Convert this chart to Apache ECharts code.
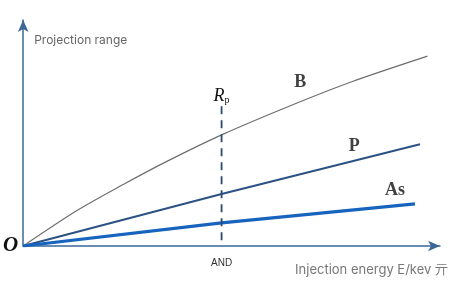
<!DOCTYPE html>
<html>
<head>
<meta charset="utf-8">
<script src="https://cdn.jsdelivr.net/npm/echarts@6/dist/echarts.min.js"></script>
<style>
  html, body { margin: 0; padding: 0; background: #fff; }
  #chart { width: 468px; height: 290px; }
</style>
</head>
<body>
<div id="chart"></div>
<script>
// curve points [energy, range] (0..100 both ways)
const boronData = [[0, 0], [13, 15.8], [24, 27.2], [34, 37], [48, 49.5], [66, 63.5], [79, 72.8], [97, 84]]
const phosData = [[0, 0], [47.6, 23], [95.2, 45]]
const arsenicData = [[0, 0], [47.6, 10.2], [94, 18.6]]
// Rp marker
const rpX = 47.6
const rpData = [[rpX, 2.5], [rpX, 62.4]]
// tick labels
const xTickValues = [rpX]
const xTickLabels = ['AND']
const yTickValues = [0]
const yTickLabels = ['O']
// curve name labels [name, x, y]
const curveLabels = [
  ['B', 66.5, 72.5],
  ['P', 79.4, 44.2],
  ['As', 89.2, 24.8]
]

const chart = echarts.init(document.getElementById('chart'))

const serif = '"Liberation Serif", "DejaVu Serif", serif'

const option = {
  animation: false,
  grid: { left: 22, right: 28, top: 20, bottom: 44 },
  xAxis: {
    type: 'value',
    min: 0,
    max: 100,
    name: 'Injection energy E/kev 亓',
    nameLocation: 'end',
    nameGap: 8,
    nameTextStyle: {
      color: '#777',
      fontSize: 13,
      fontFamily: 'Inter, "Noto Sans", sans-serif',
      align: 'right',
      verticalAlign: 'top',
      padding: [18, 0, 0, 0]
    },
    splitLine: { show: false },
    axisTick: { show: false },
    axisLine: {
      symbol: ['none', 'arrow'],
      symbolSize: [8, 12],
      lineStyle: { color: '#3a6796', width: 1.5 }
    },
    axisLabel: {
      customValues: xTickValues,
      formatter: v => xTickLabels[xTickValues.indexOf(v)] || '',
      color: '#333',
      fontSize: 10,
      margin: 12
    }
  },
  yAxis: {
    type: 'value',
    min: 0,
    max: 100,
    name: 'Projection range',
    nameLocation: 'end',
    nameGap: -20,
    nameTextStyle: {
      color: '#666',
      fontSize: 12,
      fontFamily: 'Inter, "Noto Sans", sans-serif',
      align: 'left',
      verticalAlign: 'middle',
      padding: [0, 0, 0, 11]
    },
    splitLine: { show: false },
    axisTick: { show: false },
    axisLine: {
      symbol: ['none', 'arrow'],
      symbolSize: [8, 12],
      lineStyle: { color: '#3a6796', width: 1.5 }
    },
    axisLabel: {
      customValues: yTickValues,
      formatter: v => yTickLabels[yTickValues.indexOf(v)] || '',
      color: '#111',
      fontSize: 21,
      fontStyle: 'italic',
      fontWeight: 'bold',
      fontFamily: serif,
      margin: 5,
      padding: [6, 0, 0, 0]
    }
  },
  series: [
    {
      type: 'line',
      data: boronData,
      smooth: 0.3,
      showSymbol: false,
      lineStyle: { color: '#6e6e6e', width: 1.2 }
    },
    {
      type: 'line',
      data: phosData,
      showSymbol: false,
      lineStyle: { color: '#2b5283', width: 2 }
    },
    {
      type: 'line',
      data: arsenicData,
      showSymbol: false,
      lineStyle: { color: '#1764be', width: 3.2 }
    },
    {
      type: 'line',
      data: rpData,
      showSymbol: false,
      lineStyle: { color: '#2c4a72', width: 1.8, type: [8, 6] },
      markPoint: {
        symbolSize: 0,
        data: [{
          coord: [rpX, 66.4],
          label: {
            show: true,
            formatter: '{r|R}{s|p}',
            rich: {
              r: { fontFamily: serif, fontStyle: 'italic', fontSize: 18, color: '#111' },
              s: { fontFamily: serif, fontSize: 10, color: '#111', padding: [8, 0, 0, 0] }
            }
          }
        }]
      }
    },
    {
      type: 'scatter',
      data: curveLabels.map(d => [d[1], d[2]]),
      symbolSize: 0,
      label: {
        show: true,
        position: 'inside',
        formatter: p => curveLabels[p.dataIndex][0],
        fontFamily: serif,
        fontWeight: 'bold',
        fontSize: 18,
        color: '#111'
      }
    }
  ]
}

chart.setOption(option)
</script>
</body>
</html>
